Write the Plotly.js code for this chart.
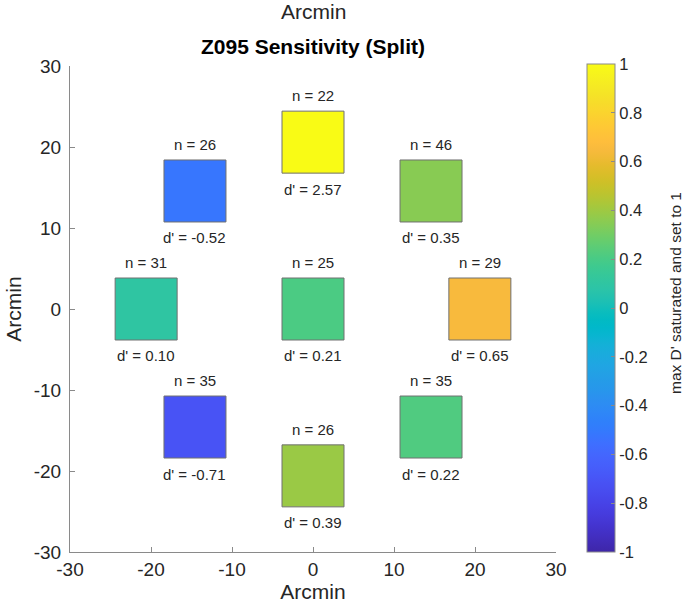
<!DOCTYPE html>
<html>
<head>
<meta charset="utf-8">
<script src="https://cdn.plot.ly/plotly-3.0.1.min.js"></script>
<style>html,body{margin:0;padding:0;background:#fff;}#chart{width:695px;height:611px;}</style>
</head>
<body>
<div id="chart"></div>
<script>
// ---- data ----
const xCenters = [0, -14.57, 14.57, -20.6, 0, 20.6, -14.57, 0, 14.57];
const yCenters = [20.6, 14.57, 14.57, 0, 0, 0, -14.57, -20.6, -14.57];
const nCounts  = [22, 26, 46, 31, 25, 29, 35, 26, 35];
const dPrime   = [2.57, -0.52, 0.35, 0.10, 0.21, 0.65, -0.71, 0.39, 0.22];
const axisTicks = [-30, -20, -10, 0, 10, 20, 30];
const axisTickLabels = ['-30', '-20', '-10', '0', '10', '20', '30'];
const cbarTicks = [-1, -0.8, -0.6, -0.4, -0.2, 0, 0.2, 0.4, 0.6, 0.8, 1];
const cbarTickLabels = ['-1', '-0.8', '-0.6', '-0.4', '-0.2', '0', '0.2', '0.4', '0.6', '0.8', '1'];

// ---- parula colormap (style) ----
const parula = [
[0.2422,0.1504,0.6603],[0.2504,0.1650,0.7076],[0.2578,0.1818,0.7511],[0.2647,0.1978,0.7952],
[0.2706,0.2147,0.8364],[0.2751,0.2342,0.8710],[0.2783,0.2559,0.8991],[0.2803,0.2782,0.9221],
[0.2813,0.3006,0.9414],[0.2810,0.3228,0.9579],[0.2795,0.3447,0.9717],[0.2760,0.3667,0.9829],
[0.2699,0.3892,0.9906],[0.2602,0.4123,0.9952],[0.2440,0.4358,0.9988],[0.2206,0.4603,0.9973],
[0.1963,0.4847,0.9892],[0.1834,0.5074,0.9798],[0.1786,0.5289,0.9682],[0.1764,0.5499,0.9520],
[0.1687,0.5703,0.9359],[0.1540,0.5902,0.9218],[0.1460,0.6091,0.9079],[0.1380,0.6276,0.8973],
[0.1248,0.6459,0.8883],[0.1113,0.6635,0.8763],[0.0952,0.6798,0.8598],[0.0689,0.6948,0.8394],
[0.0297,0.7082,0.8163],[0.0036,0.7203,0.7917],[0.0067,0.7312,0.7660],[0.0433,0.7411,0.7394],
[0.0964,0.7500,0.7120],[0.1408,0.7584,0.6842],[0.1717,0.7670,0.6554],[0.1938,0.7758,0.6251],
[0.2161,0.7843,0.5923],[0.2470,0.7918,0.5567],[0.2906,0.7973,0.5188],[0.3406,0.8008,0.4789],
[0.3909,0.8029,0.4354],[0.4456,0.8024,0.3909],[0.5044,0.7993,0.3480],[0.5616,0.7942,0.3045],
[0.6174,0.7876,0.2612],[0.6720,0.7793,0.2227],[0.7242,0.7698,0.1910],[0.7738,0.7598,0.1646],
[0.8203,0.7498,0.1535],[0.8634,0.7406,0.1596],[0.9035,0.7330,0.1774],[0.9393,0.7288,0.2100],
[0.9728,0.7298,0.2394],[0.9956,0.7434,0.2371],[0.9970,0.7659,0.2199],[0.9952,0.7893,0.2028],
[0.9892,0.8136,0.1885],[0.9786,0.8386,0.1766],[0.9676,0.8639,0.1643],[0.9610,0.8890,0.1537],
[0.9597,0.9135,0.1423],[0.9628,0.9373,0.1265],[0.9691,0.9606,0.1064],[0.9769,0.9839,0.0805]];
const colorscale = parula.map((c, i) => [i / (parula.length - 1),
  'rgb(' + c.map(v => Math.round(v * 255)).join(',') + ')']);

const colorVals = dPrime.map(d => Math.max(-1, Math.min(1, d)));

const FONT = 'Liberation Sans, Arial, Helvetica, sans-serif';
const TXT = '#262626';
const AX = '#8a8a8a';

const trace = {
  type: 'scatter', mode: 'markers',
  x: xCenters, y: yCenters,
  hoverinfo: 'skip',
  marker: {
    symbol: 'square', size: 62,
    color: colorVals, cmin: -1, cmax: 1, colorscale: colorscale,
    line: {color: '#707070', width: 1},
    showscale: true,
    colorbar: {
      x: 1.0638, xanchor: 'left', y: 0.502, yanchor: 'middle',
      len: 1.004, lenmode: 'fraction', thickness: 28, thicknessmode: 'pixels',
      xpad: 0, ypad: 0,
      outlinecolor: AX, outlinewidth: 1,
      tickmode: 'array', tickvals: cbarTicks, ticktext: cbarTickLabels,
      ticks: 'inside', ticklen: 4, tickcolor: AX,
      tickfont: {family: FONT, size: 16.5, color: TXT}
    }
  }
};

const annotations = [];
for (let i = 0; i < xCenters.length; i++) {
  annotations.push({x: xCenters[i], y: yCenters[i] + 5.7, xref: 'x', yref: 'y',
    text: 'n = ' + nCounts[i], showarrow: false, yanchor: 'middle',
    font: {family: FONT, size: 15, color: TXT}});
  annotations.push({x: xCenters[i], y: yCenters[i] - 5.8, xref: 'x', yref: 'y',
    text: "d' = " + dPrime[i].toFixed(2), showarrow: false, yanchor: 'middle',
    font: {family: FONT, size: 15, color: TXT}});
}
// top secondary "Arcmin" label
annotations.push({x: 0.5, y: 1 + (66 - 11) / 486, xref: 'paper', yref: 'paper', text: 'Arcmin',
  showarrow: false, yanchor: 'middle', font: {family: FONT, size: 21, color: TXT}});
// colorbar label
annotations.push({x: 1 + (675 - 556) / 486, y: (552 - 293) / 486, xref: 'paper', yref: 'paper',
  text: "max D' saturated and set to 1", textangle: -90, showarrow: false,
  xanchor: 'center', yanchor: 'middle', font: {family: FONT, size: 15.5, color: TXT}});

const axisCommon = {
  range: [-30, 30], tickmode: 'array', tickvals: axisTicks, ticktext: axisTickLabels,
  ticks: 'inside', ticklen: 5, tickcolor: AX, showline: true, linecolor: AX, linewidth: 1,
  showgrid: false, zeroline: false, fixedrange: true,
  tickfont: {family: FONT, size: 19, color: TXT}
};

const layout = {
  width: 695, height: 611,
  margin: {l: 70, r: 139, t: 66, b: 59},
  paper_bgcolor: '#fff', plot_bgcolor: '#fff',
  showlegend: false,
  title: {text: '<b>Z095 Sensitivity (Split)</b>', x: 0.5, xref: 'paper', xanchor: 'center',
          y: 1 - 47 / 611, yref: 'container', yanchor: 'middle',
          font: {family: FONT, size: 21, color: '#000'}},
  xaxis: Object.assign({}, axisCommon, {
    title: {text: 'Arcmin', font: {family: FONT, size: 21, color: TXT}, standoff: 0}
  }),
  yaxis: Object.assign({}, axisCommon, {
    ticklabelstandoff: 4,
    title: {text: 'Arcmin', font: {family: FONT, size: 21, color: TXT}, standoff: 6}
  }),
  annotations: annotations
};

Plotly.newPlot('chart', [trace], layout, {displayModeBar: false, staticPlot: true});
</script>
</body>
</html>
